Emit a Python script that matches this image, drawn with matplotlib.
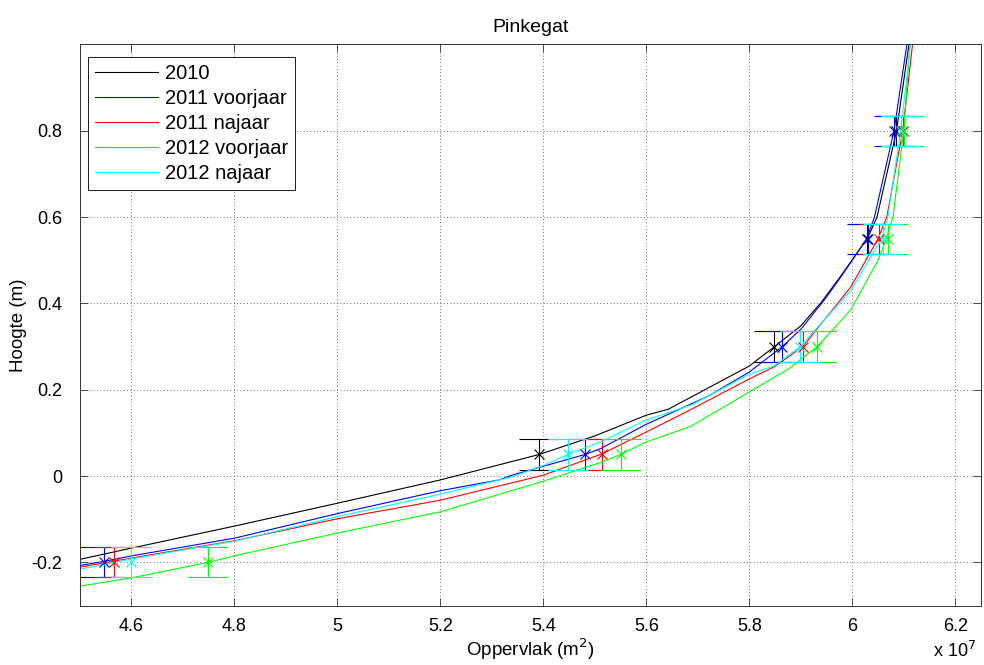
import numpy as np
import matplotlib
matplotlib.use('Agg')
import matplotlib.pyplot as plt

plt.rcParams['font.family'] = ['Liberation Sans', 'DejaVu Sans']

# hypsometrische curves: oppervlak (x 1e7 m2) tegen hoogte (m)
opp_2010 = [4.45, 4.5, 4.6, 4.8, 5.0, 5.2, 5.392, 5.5, 5.6, 5.643, 5.72, 5.8, 5.848, 5.9, 5.94, 5.978, 6.03, 6.048, 6.086, 6.11, 6.113]
h_2010 = [-0.206, -0.193, -0.167, -0.116, -0.063, -0.009, 0.05, 0.093, 0.141, 0.155, 0.204, 0.255, 0.299, 0.348, 0.403, 0.464, 0.552, 0.6, 0.8, 1.0, 1.02]

opp_2011v = [4.45, 4.5, 4.546, 4.6, 4.8, 5.0, 5.2, 5.314, 5.339, 5.401, 5.481, 5.512, 5.6, 5.72, 5.8, 5.864, 5.9, 5.947, 5.98, 6.028, 6.043, 6.081, 6.106, 6.109]
h_2011v = [-0.219, -0.207, -0.198, -0.185, -0.144, -0.087, -0.034, -0.009, 0.002, 0.023, 0.05, 0.064, 0.12, 0.185, 0.241, 0.30, 0.34, 0.41, 0.465, 0.55, 0.6, 0.8, 1.0, 1.02]

opp_2011n = [4.45, 4.5, 4.567, 4.6, 4.8, 5.0, 5.2, 5.4, 5.513, 5.6, 5.688, 5.8, 5.848, 5.904, 5.997, 6.05, 6.067, 6.098, 6.117, 6.12]
h_2011n = [-0.224, -0.211, -0.197, -0.190, -0.150, -0.099, -0.056, 0.002, 0.051, 0.102, 0.155, 0.225, 0.253, 0.30, 0.438, 0.55, 0.6, 0.8, 1.0, 1.02]

opp_2012v = [4.45, 4.5, 4.6, 4.749, 4.8, 5.0, 5.2, 5.4, 5.513, 5.55, 5.6, 5.688, 5.8, 5.876, 5.932, 5.997, 6.05, 6.066, 6.079, 6.10, 6.112, 6.115]
h_2012v = [-0.268, -0.255, -0.236, -0.2, -0.185, -0.132, -0.083, -0.012, 0.032, 0.05, 0.079, 0.116, 0.195, 0.248, 0.30, 0.385, 0.50, 0.55, 0.6, 0.8, 1.0, 1.02]

opp_2012n = [4.45, 4.5, 4.6, 4.8, 5.0, 5.2, 5.314, 5.339, 5.401, 5.448, 5.513, 5.6, 5.688, 5.8, 5.848, 5.899, 5.926, 5.997, 6.057, 6.069, 6.094, 6.113, 6.116]
h_2012n = [-0.228, -0.216, -0.192, -0.151, -0.094, -0.042, -0.009, -0.002, 0.025, 0.05, 0.08, 0.13, 0.165, 0.236, 0.255, 0.30, 0.336, 0.43, 0.55, 0.6, 0.8, 1.0, 1.02]

# foutbalken op vaste hoogtes
eb_h = [-0.2, 0.05, 0.3, 0.55, 0.8]
eb_err = 0.035
eb_2010 = [4.473, 5.392, 5.848, 6.028, 6.085]
eb_2011v = [4.546, 5.481, 5.864, 6.03, 6.081]
eb_2011n = [4.567, 5.513, 5.904, 6.052, 6.098]
eb_2012v = [4.749, 5.55, 5.932, 6.069, 6.10]
eb_2012n = [4.6, 5.448, 5.899, 6.06, 6.094]

labels = ['2010', '2011 voorjaar', '2011 najaar', '2012 voorjaar', '2012 najaar']
colors = ['#000000', '#0000ff', '#ff0000', '#00ff00', '#00ffff']
curves = [(opp_2010, h_2010), (opp_2011v, h_2011v), (opp_2011n, h_2011n),
          (opp_2012v, h_2012v), (opp_2012n, h_2012n)]
bars = [eb_2010, eb_2011v, eb_2011n, eb_2012v, eb_2012n]

fig = plt.figure(figsize=(9.84, 6.65), dpi=100)
ax = fig.add_axes([80 / 984, 59.5 / 665, 901 / 984, 561 / 665])

for (x, y), xb, c, lab in zip(curves, bars, colors, labels):
    ax.plot(x, y, color=c, lw=0.8, label=lab)
    ax.errorbar(xb, eb_h, yerr=eb_err, fmt='x', color=c, ms=6.5, mew=0.8,
                elinewidth=0.8, capsize=14.4, capthick=0.8)

ax.set_xlim(4.5, 6.25)
ax.set_ylim(-0.3, 1.0)
ax.set_xticks(np.arange(4.6, 6.21, 0.2))
ax.set_xticklabels(['4.6', '4.8', '5', '5.2', '5.4', '5.6', '5.8', '6', '6.2'])
ax.set_yticks([-0.2, 0, 0.2, 0.4, 0.6, 0.8])
ax.set_yticklabels(['-0.2', '0', '0.2', '0.4', '0.6', '0.8'])

ax.grid(True, color='0.25', linestyle=(0, (1, 3)), lw=0.6)
ax.tick_params(direction='in', length=6, width=0.6, top=True, right=True,
               labelsize=13, color='0.2')
ax.tick_params(axis='x', pad=9)
ax.tick_params(axis='y', pad=13)
for s in ax.spines.values():
    s.set_color('0.2')
    s.set_linewidth(0.7)

ax.set_title('Pinkegat', fontsize=14, pad=9)
ax.set_xlabel('Oppervlak (m$^2$)', fontsize=13.5, labelpad=1)
ax.set_ylabel('Hoogte (m)', fontsize=13.5, labelpad=3)
fig.text(955 / 984, 4 / 665, 'x 10$^7$', fontsize=13, ha='center', va='bottom')

leg = ax.legend(loc='upper left', bbox_to_anchor=(0.0, 0.992), fontsize=14.5,
                handlelength=3.1, handletextpad=0.35, labelspacing=0.3,
                borderpad=0.35, borderaxespad=0.4, fancybox=False, framealpha=1,
                edgecolor='0.1')
leg.get_frame().set_linewidth(0.7)

fig.savefig('out.png', dpi=100)
